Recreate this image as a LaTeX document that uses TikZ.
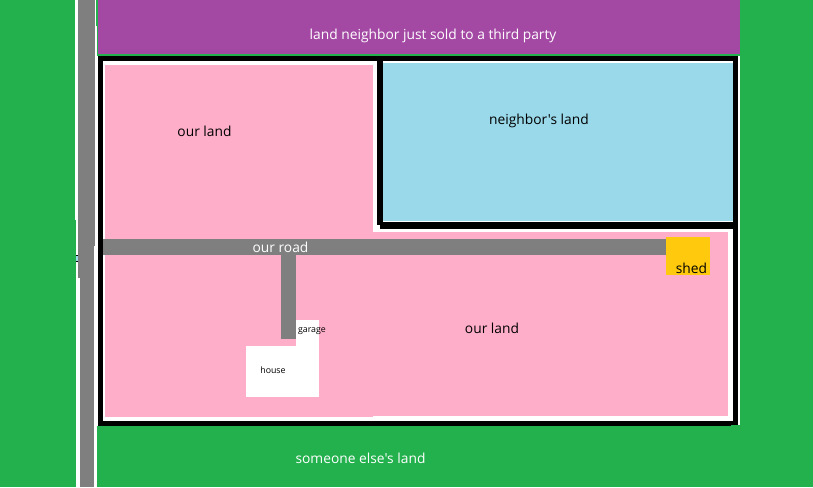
\documentclass[tikz,border=0pt]{standalone}
\usepackage{fontspec}
\setmainfont[Ligatures=TeXOff]{Open Sans}
\definecolor{lgreen}{HTML}{22B14C}
\definecolor{lpurple}{HTML}{A349A4}
\definecolor{lpink}{HTML}{FFAEC9}
\definecolor{lblue}{HTML}{99D9EA}
\definecolor{lgrey}{HTML}{7F7F7F}
\definecolor{lyellow}{HTML}{FFC90E}
\tikzset{
  lbl/.style={inner sep=0pt,font=\fontsize{13.8}{16}\selectfont,text=black},
  lblw/.style={lbl,text=white},
  tiny/.style={inner sep=0pt,font=\fontsize{8.8}{10}\selectfont,text=black}
}
\newcommand{\bx}[5]{\fill[#1] (#2,#3) rectangle (#4,#5);}
\begin{document}
\begin{tikzpicture}[x=1pt,y=-1pt]
\useasboundingbox (0,0) rectangle (813,487);
\bx{white}{0}{0}{813}{487}
% green ground
\bx{lgreen}{0}{0}{76}{487}
\bx{white}{75}{0}{78}{220}
\bx{lgreen}{740}{0}{813}{487}
\bx{lgreen}{97}{426}{740}{487}
\bx{lgreen}{96}{0}{98}{26}
\bx{lgreen}{97}{26}{740}{56}
% purple
\bx{lpurple}{98}{0}{740}{54}
% left strip road
\bx{lgrey}{78}{0}{95}{246}
\bx{lgrey}{78}{246}{94}{278}
\bx{lgrey}{80}{278}{94}{487}
\bx{black}{76}{255}{78}{262}
\bx{lblue}{76}{256}{78}{261}
% black frame
\bx{black}{98}{56}{738}{426}
\bx{lgreen}{731}{425}{740}{426}
\bx{white}{103}{61}{377}{421}
\bx{white}{377}{225}{380}{421}
\bx{white}{379}{229}{733}{421}
\bx{white}{738}{56}{740}{425}
\bx{white}{383}{61}{733}{222}
% land
\bx{lpink}{105}{65}{373}{239}
\bx{lpink}{105}{232}{728}{416}
\bx{lpink}{105}{416}{373}{417}
\bx{lblue}{383}{63}{733}{221}
% roads, shed, buildings
\bx{white}{246}{346}{319}{397}
\bx{white}{296}{320}{319}{346}
\bx{lyellow}{666}{237}{710}{275}
\bx{lgrey}{103}{239}{666}{255}
\bx{lgrey}{281}{255}{296}{339}
% labels
\node[lblw] (sold) at (433,36) {land neighbor just sold to a third party};
\node[lbl] (ourA) at (204.5,131) {our land};
\node[lbl] (neigh) at (539,121) {neighbor's land};
\node[lblw] (road) at (280.5,247) {our road};
\node[lbl] (shed) at (691.5,268) {shed};
\node[lbl] (ourB) at (492,328) {our land};
\node[tiny] (house) at (273,370.5) {house};
\node[tiny] (garage) at (312,331.5) {garage};
\node[lblw] (else) at (360.5,458.5) {someone else's land};
\end{tikzpicture}
\end{document}
